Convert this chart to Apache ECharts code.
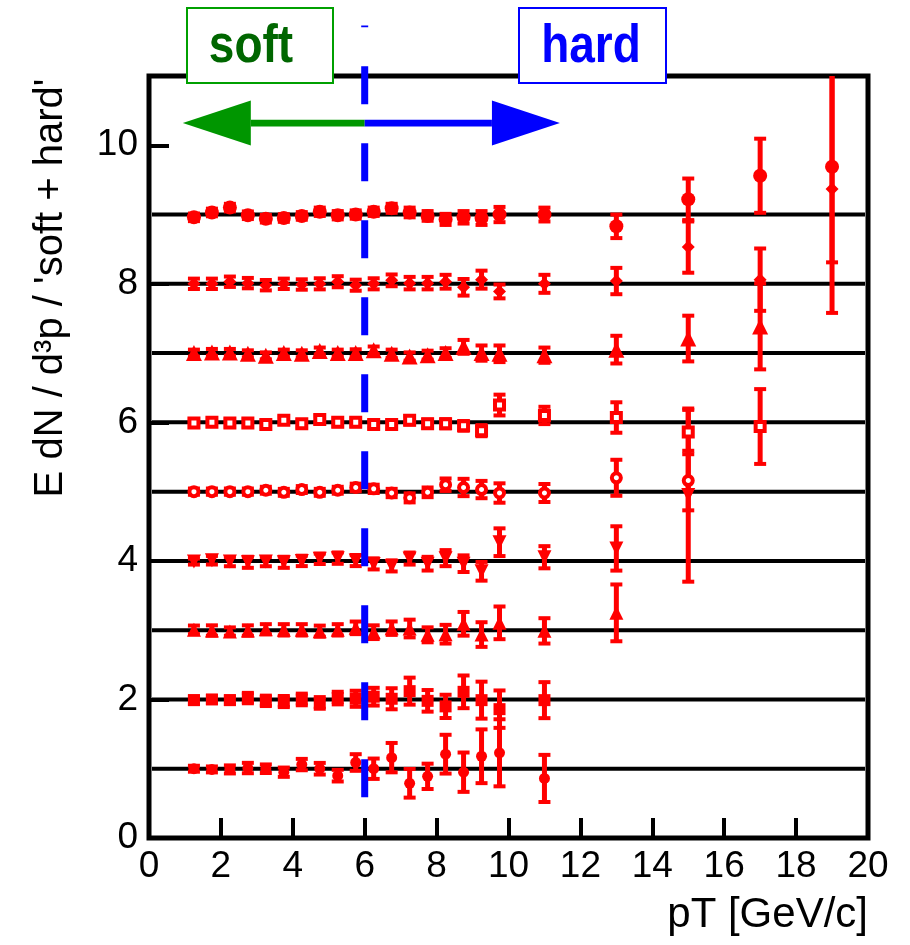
<!DOCTYPE html>
<html>
<head>
<meta charset="utf-8">
<script src="https://cdn.jsdelivr.net/npm/echarts@6/dist/echarts.min.js"></script>
<style>
  html, body { margin: 0; padding: 0; background: #fff; }
  #main { width: 910px; height: 945px; }
</style>
</head>
<body>
<div id="main"></div>
<script>
// pT bin centres (GeV/c)
const pT = [1.25, 1.75, 2.25, 2.75, 3.25, 3.75, 4.25, 4.75, 5.25, 5.75, 6.25, 6.75,
            7.25, 7.75, 8.25, 8.75, 9.25, 9.75, 11, 13, 15, 17, 19];

// ratio + offset for each centrality row, and its error
const row1 = [1.00, 0.99, 0.99, 1.01, 1.00, 0.95, 1.06, 1.00, 0.90, 1.09, 1.00, 1.16, 0.79, 0.89, 1.21, 0.95, 1.18, 1.23, 0.86];
const err1 = [0.043, 0.043, 0.058, 0.075, 0.062, 0.067, 0.082, 0.084, 0.084, 0.12, 0.147, 0.212, 0.207, 0.183, 0.28, 0.284, 0.388, 0.484, 0.34];
const row2 = [1.99, 2.00, 1.99, 2.02, 1.98, 1.97, 2.00, 1.95, 2.02, 2.01, 2.04, 2.01, 2.12, 1.98, 1.90, 2.11, 1.99, 1.86, 1.99];
const err2 = [0.055, 0.05, 0.055, 0.075, 0.075, 0.08, 0.084, 0.084, 0.091, 0.116, 0.128, 0.152, 0.195, 0.156, 0.168, 0.236, 0.267, 0.27, 0.26];
const row3 = [3.005, 2.995, 2.98, 2.995, 3.014, 3.005, 3.005, 2.986, 3.005, 3.034, 2.971, 3.029, 3.024, 2.933, 2.942, 3.092, 2.937, 3.106, 2.99, 3.25];
const err3 = [0.062, 0.075, 0.06, 0.075, 0.073, 0.082, 0.082, 0.08, 0.082, 0.091, 0.099, 0.097, 0.128, 0.108, 0.135, 0.171, 0.178, 0.236, 0.183, 0.41];
const row4 = [3.99, 4.01, 3.99, 3.98, 3.99, 3.98, 4.00, 4.03, 4.04, 4.005, 3.957, 3.928, 4.034, 3.96, 4.04, 3.96, 3.85, 4.27, 4.053, 4.18, 4.95];
const err4 = [0.043, 0.062, 0.067, 0.08, 0.067, 0.08, 0.075, 0.075, 0.082, 0.08, 0.08, 0.08, 0.087, 0.099, 0.116, 0.12, 0.135, 0.2, 0.16, 0.32, 1.25];
const row5 = [5.00, 5.00, 5.00, 5.00, 5.02, 4.99, 5.03, 4.99, 5.02, 5.06, 5.04, 4.98, 4.91, 4.99, 5.10, 5.06, 5.03, 4.98, 4.98, 5.20, 5.16];
const err5 = [0.045, 0.045, 0.045, 0.045, 0.05, 0.05, 0.05, 0.05, 0.05, 0.055, 0.06, 0.06, 0.065, 0.07, 0.09, 0.125, 0.125, 0.14, 0.13, 0.26, 0.43];
const row6 = [5.99, 6.00, 5.99, 5.99, 5.97, 6.03, 5.98, 6.04, 6.00, 6.00, 5.97, 5.97, 6.03, 5.98, 5.98, 5.95, 5.88, 6.25, 6.10, 6.07, 5.86, 5.94];
const err6 = [0.05, 0.05, 0.05, 0.05, 0.05, 0.05, 0.05, 0.055, 0.055, 0.055, 0.055, 0.06, 0.06, 0.06, 0.065, 0.07, 0.08, 0.15, 0.125, 0.22, 0.32, 0.54];
const row7 = [7.00, 7.01, 7.01, 6.99, 6.96, 7.00, 6.99, 7.03, 7.00, 7.00, 7.04, 6.99, 6.95, 6.97, 7.00, 7.09, 7.00, 6.99, 6.97, 7.05, 7.21, 7.385];
const err7 = [0.05, 0.05, 0.05, 0.05, 0.05, 0.05, 0.05, 0.05, 0.05, 0.055, 0.055, 0.06, 0.06, 0.065, 0.07, 0.1, 0.11, 0.12, 0.11, 0.2, 0.33, 0.62];
const row8 = [8.00, 8.00, 8.03, 8.01, 7.98, 8.00, 7.99, 8.00, 8.03, 7.98, 8.00, 8.05, 8.01, 8.01, 8.03, 7.95, 8.06, 7.89, 8.00, 8.04, 8.53, 8.06, 9.37];
const err8 = [0.075, 0.075, 0.075, 0.075, 0.075, 0.075, 0.075, 0.08, 0.08, 0.08, 0.08, 0.085, 0.09, 0.09, 0.1, 0.12, 0.13, 0.1, 0.13, 0.19, 0.37, 0.45, 1.79];
const row9 = [8.96, 9.03, 9.10, 8.99, 8.94, 8.95, 8.98, 9.04, 8.99, 9.00, 9.04, 9.09, 9.03, 8.98, 8.93, 8.96, 8.95, 9.00, 9.00, 8.83, 9.22, 9.56, 9.69];
const err9 = [0.055, 0.055, 0.055, 0.055, 0.055, 0.055, 0.055, 0.06, 0.06, 0.06, 0.06, 0.065, 0.07, 0.07, 0.08, 0.09, 0.1, 0.11, 0.1, 0.17, 0.30, 0.535, 1.38];

const baselines = [1, 2, 3, 4, 5, 6, 7, 8, 9];
const xTicks = [0, 20, 2];   // min, max, step
const yTicks = [0, 11, 2];

// soft/hard boundary and the two arrows (data units)
const cutPt = 6;
const cutLine = [0.59, 11.73];
const arrowY = 10.32;
const arrowEnds = [0.94, 11.43];

const RED = '#ff0000';

const rows = [
  { v: row1, e: err1, symbol: 'circle', size: 11 },
  { v: row2, e: err2, symbol: 'rect', size: 12 },
  { v: row3, e: err3, symbol: 'triangle', size: 14 },
  { v: row4, e: err4, symbol: 'triangle', size: 14, rot: 180 },
  { v: row5, e: err5, symbol: 'circle', size: 9, open: true },
  { v: row6, e: err6, symbol: 'rect', size: 9, open: true },
  { v: row7, e: err7, symbol: 'triangle', size: 16 },
  { v: row8, e: err8, symbol: 'diamond', size: 13 },
  { v: row9, e: err9, symbol: 'circle', size: 14 },
];

function errBars(params, api) {
  const x = api.value(0), y = api.value(1), e = api.value(2);
  const top = api.coord([x, y + e]);
  const bot = api.coord([x, y - e]);
  const cw = 12, ch = 4;
  return {
    type: 'group',
    children: [
      { type: 'line', shape: { x1: top[0], y1: top[1], x2: bot[0], y2: bot[1] },
        style: { stroke: RED, lineWidth: 5 } },
      { type: 'rect', shape: { x: top[0] - cw / 2, y: top[1] - ch / 2, width: cw, height: ch },
        style: { fill: RED } },
      { type: 'rect', shape: { x: bot[0] - cw / 2, y: bot[1] - ch / 2, width: cw, height: ch },
        style: { fill: RED } },
    ],
  };
}

let series = [];

// black reference lines at each integer offset
series.push({
  type: 'custom',
  z: 1,
  silent: true,
  data: baselines.map((b) => [0, b]),
  renderItem: function (params, api) {
    const a = api.coord([xTicks[0], api.value(1)]);
    const b = api.coord([xTicks[1], api.value(1)]);
    return { type: 'line', shape: { x1: a[0] + 3, y1: a[1], x2: b[0] - 3, y2: b[1] },
             style: { stroke: '#000', lineWidth: 4 } };
  },
});

rows.forEach((r) => {
  const pts = r.v.map((y, i) => [pT[i], y, r.e[i]]);
  series.push({
    type: 'custom',
    z: 2,
    clip: true,
    silent: true,
    data: pts,
    encode: { x: 0, y: 1 },
    renderItem: errBars,
  });
  series.push({
    type: 'scatter',
    z: 3,
    silent: true,
    symbol: r.symbol,
    symbolSize: r.size,
    symbolRotate: r.rot || 0,
    itemStyle: r.open
      ? { color: '#fff', borderColor: RED, borderWidth: 4, opacity: 1 }
      : { color: RED, opacity: 1 },
    data: pts.map((p) => [p[0], p[1]]),
  });
});

// dashed soft/hard boundary
series.push({
  type: 'custom',
  z: 5,
  clip: false,
  silent: true,
  data: [[cutPt, cutLine[0], cutLine[1]]],
  renderItem: function (params, api) {
    const a = api.coord([api.value(0), api.value(1)]);
    const b = api.coord([api.value(0), api.value(2)]);
    return { type: 'line', shape: { x1: a[0], y1: a[1], x2: b[0], y2: b[1] },
             style: { stroke: '#0000ff', lineWidth: 7, lineDash: [38, 39] } };
  },
});

// the two arrows
series.push({
  type: 'custom',
  z: 6,
  clip: false,
  silent: true,
  data: [[cutPt, arrowEnds[0], arrowY, 0], [cutPt, arrowEnds[1], arrowY, 1]],
  renderItem: function (params, api) {
    const s = api.coord([api.value(0), api.value(2)]);
    const t = api.coord([api.value(1), api.value(2)]);
    const col = api.value(3) === 0 ? '#009600' : '#0000ff';
    const dir = t[0] > s[0] ? 1 : -1;
    const base = t[0] - dir * 68;
    return {
      type: 'group',
      children: [
        { type: 'rect', shape: { x: Math.min(s[0], base), y: s[1] - 3.3, width: Math.abs(base - s[0]), height: 6.6 },
          style: { fill: col } },
        { type: 'polygon', shape: { points: [[t[0], t[1]], [base, t[1] - 22.5], [base, t[1] + 22.5]] },
          style: { fill: col } },
      ],
    };
  },
});

const tickFont = { color: '#000', fontSize: 37, fontFamily: 'Liberation Sans' };

let options = {
  animation: false,
  backgroundColor: '#fff',
  grid: { left: 149, right: 42, top: 76, bottom: 107, show: true, borderColor: '#000', borderWidth: 5 },
  xAxis: {
    type: 'value',
    min: xTicks[0], max: xTicks[1], interval: xTicks[2],
    axisLine: { show: false },
    axisTick: { show: true, inside: true, length: 20, lineStyle: { color: '#000', width: 4 } },
    axisLabel: Object.assign({ margin: 10 }, tickFont),
    splitLine: { show: false },
  },
  yAxis: {
    type: 'value',
    min: yTicks[0], max: yTicks[1], interval: yTicks[2],
    axisLine: { show: false },
    axisTick: { show: true, inside: true, length: 20, lineStyle: { color: '#000', width: 4 } },
    axisLabel: Object.assign({ margin: 11, showMaxLabel: false }, tickFont),
    splitLine: { show: false },
  },
  graphic: [
    { type: 'rect', x: 187, y: 8, z: 100, shape: { width: 146, height: 75 },
      style: { fill: '#fff', stroke: '#00a000', lineWidth: 2 } },
    { type: 'text', x: 251, y: 47, z: 101, scaleY: 1.15,
      style: { text: 'soft', font: 'bold 46px "Liberation Sans"', fill: '#006600',
               align: 'center', verticalAlign: 'middle', textAlign: 'center', textVerticalAlign: 'middle' } },
    { type: 'rect', x: 519, y: 8, z: 100, shape: { width: 147, height: 75 },
      style: { fill: '#fff', stroke: '#0000ff', lineWidth: 2 } },
    { type: 'text', x: 591, y: 47, z: 101, scaleY: 1.15,
      style: { text: 'hard', font: 'bold 46px "Liberation Sans"', fill: '#0000ff',
               align: 'center', verticalAlign: 'middle', textAlign: 'center', textVerticalAlign: 'middle' } },
    { type: 'text', x: 51, y: 288, rotation: Math.PI / 2, z: 101,
      style: { text: "E dN / d\u00b3p / 'soft + hard'", font: '40px "Liberation Sans"', fill: '#000',
               align: 'center', verticalAlign: 'middle', textAlign: 'center', textVerticalAlign: 'middle' } },
    { type: 'text', x: 868, y: 915, z: 101,
      style: { text: 'pT [GeV/c]', font: '42px "Liberation Sans"', fill: '#000',
               align: 'right', verticalAlign: 'middle', textAlign: 'right', textVerticalAlign: 'middle' } },
  ],
  series: series,
};

let myChart = echarts.init(document.getElementById('main'));
myChart.setOption(options);
</script>
</body>
</html>
